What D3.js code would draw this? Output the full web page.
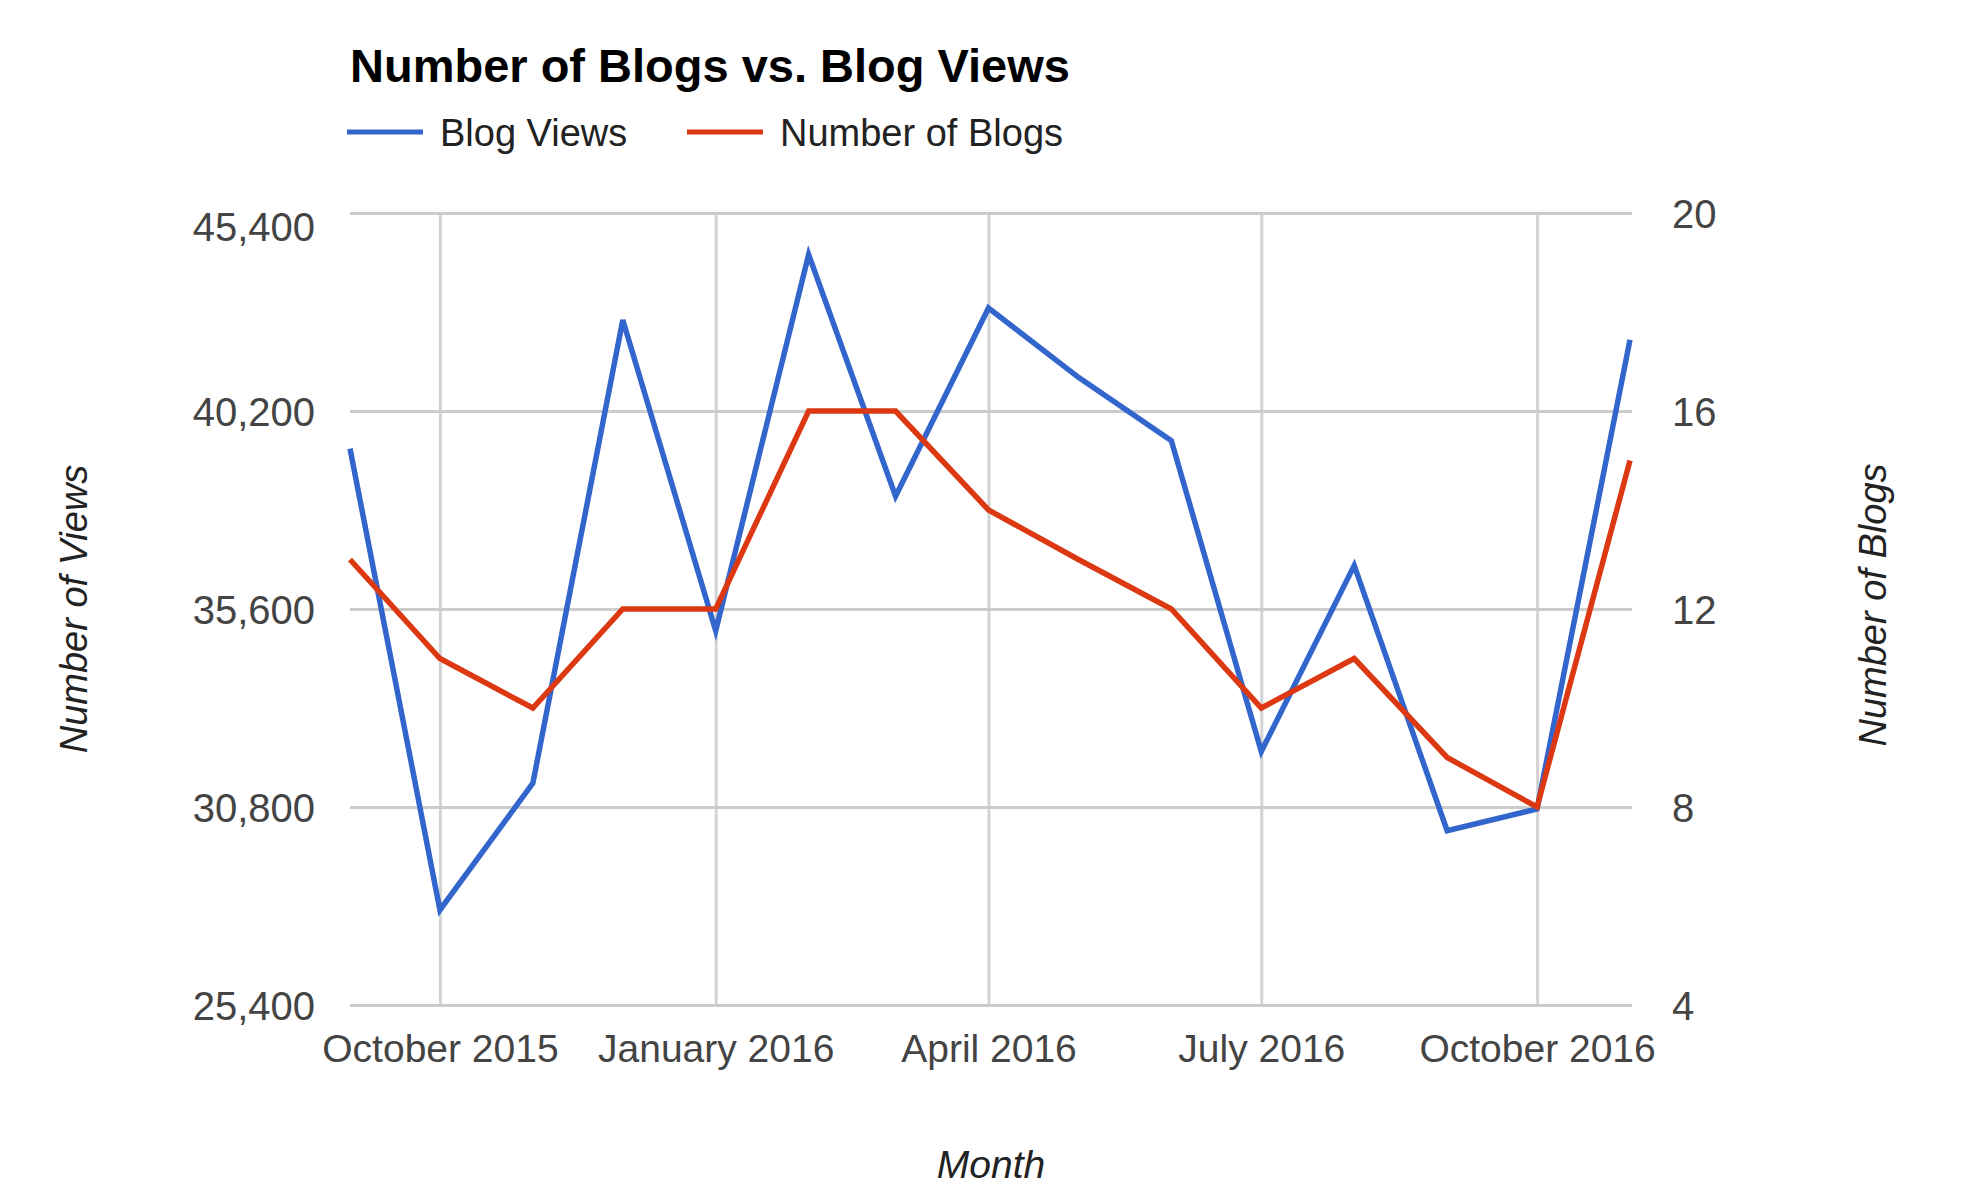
<!DOCTYPE html>
<html>
<head>
<meta charset="utf-8">
<script src="https://cdn.jsdelivr.net/npm/d3@7"></script>
<style>
  body { margin: 0; background: #fff; }
  svg text { font-family: "Liberation Sans", Arial, sans-serif; }
</style>
</head>
<body>
<div id="chart"></div>
<script>
// monthly data, Sep 2015 - Nov 2016
const months = ["2015-09", "2015-10", "2015-11", "2015-12", "2016-01", "2016-02", "2016-03", "2016-04",
    "2016-05", "2016-06", "2016-07", "2016-08", "2016-09", "2016-10", "2016-11"]
const blogViews = [39450, 27800, 31000, 42700, 34850, 44350, 38250, 43000, 41250, 39650, 31800, 36500, 29800, 30350, 42200]
const numberOfBlogs = [13, 11, 10, 12, 12, 16, 16, 14, 13, 12, 10, 11, 9, 8, 15]
const seriesNames = ["Blog Views", "Number of Blogs"]
const seriesColors = ["#3366cc", "#dc3912"]
const leftTickLabels = ["25,400", "30,800", "35,600", "40,200", "45,400"]
const rightTickValues = [4, 8, 12, 16, 20]

var width = 1962
var height = 1204
var margin = { top: 213, right: 330, bottom: 199, left: 350 }
var plotW = width - margin.left - margin.right
var plotH = height - margin.top - margin.bottom

const parseMonth = d3.timeParse("%Y-%m")
const dates = months.map(parseMonth)

var svg = d3.select("#chart")
    .append("svg")
    .attr("width", width)
    .attr("height", height)

var x = d3.scaleTime()
    .domain([parseMonth("2015-09"), parseMonth("2016-11")])
    .range([0, plotW - 2])
var yLeft = d3.scaleLinear()
    .domain([25400, 45400])
    .range([plotH, 0])
var yRight = d3.scaleLinear()
    .domain([4, 20])
    .range([plotH, 0])

var g = svg.append("g")
    .attr("transform", "translate(" + margin.left + "," + margin.top + ")")

// vertical gridlines + month labels
var xAxis = g.append("g")
    .attr("transform", "translate(0," + plotH + ")")
    .call(d3.axisBottom(x)
        .tickValues(d3.timeMonths(parseMonth("2015-10"), parseMonth("2016-11"), 3))
        .tickFormat(d3.timeFormat("%B %Y"))
        .tickSize(-plotH))
xAxis.select(".domain").remove()
xAxis.selectAll("line").style("stroke", "#d3d3d3").style("stroke-width", "3px")
xAxis.selectAll("text")
    .attr("y", 57).attr("dy", 0)
    .style("font-size", "39px").style("fill", "#444")

// horizontal gridlines + left labels
var leftAxis = g.append("g")
    .call(d3.axisLeft(yLeft)
        .tickValues(d3.range(25400, 45401, 5000))
        .tickFormat((d, i) => leftTickLabels[i])
        .tickSize(-plotW)
        .tickPadding(35))
leftAxis.select(".domain").remove()
leftAxis.selectAll("line").style("stroke", "#cccccc").style("stroke-width", "3px")
leftAxis.selectAll("text")
    .style("font-size", "40px").style("fill", "#444")
    .attr("dy", (d, i) => i == leftTickLabels.length - 1 ? "0.68em" : "0.36em")

// right labels
var rightAxis = g.append("g")
    .attr("transform", "translate(" + plotW + ",0)")
    .call(d3.axisRight(yRight)
        .tickValues(rightTickValues)
        .tickSize(0)
        .tickPadding(40))
rightAxis.select(".domain").remove()
rightAxis.selectAll("text")
    .style("font-size", "40px").style("fill", "#444")
    .attr("dy", "0.36em")

// the two lines, views first so blogs sits on top
var lineViews = d3.line()
    .x((d, i) => x(dates[i]))
    .y(d => yLeft(d))
var lineBlogs = d3.line()
    .x((d, i) => x(dates[i]))
    .y(d => yRight(d))

g.append("path")
    .datum(blogViews)
    .attr("d", lineViews)
    .style("fill", "none")
    .style("stroke", seriesColors[0])
    .style("stroke-width", "5.5px")
    .style("stroke-linejoin", "miter")

g.append("path")
    .datum(numberOfBlogs)
    .attr("d", lineBlogs)
    .style("fill", "none")
    .style("stroke", seriesColors[1])
    .style("stroke-width", "5.5px")
    .style("stroke-linejoin", "miter")

// title
svg.append("text")
    .attr("x", 350)
    .attr("y", 82)
    .style("font-size", "47px")
    .style("font-weight", "bold")
    .style("fill", "#000")
    .text("Number of Blogs vs. Blog Views")

// legend
var legendX = [347, 687]
var legend = svg.selectAll(".legendItem")
    .data(seriesNames).enter()
    .append("g")
    .attr("class", "legendItem")
    .attr("transform", (d, i) => "translate(" + legendX[i] + ",132)")
legend.append("line")
    .attr("x1", 0).attr("x2", 76)
    .style("stroke", (d, i) => seriesColors[i])
    .style("stroke-width", "5px")
legend.append("text")
    .attr("x", 93)
    .attr("y", 14)
    .style("font-size", "38px")
    .style("fill", "#222")
    .text(d => d)

// axis titles
svg.append("text")
    .attr("transform", "translate(87,609) rotate(-90)")
    .style("text-anchor", "middle")
    .style("font-size", "38px")
    .style("font-style", "italic")
    .style("fill", "#222")
    .text("Number of Views")

svg.append("text")
    .attr("transform", "translate(1886,605) rotate(-90)")
    .style("text-anchor", "middle")
    .style("font-size", "38px")
    .style("font-style", "italic")
    .style("fill", "#222")
    .text("Number of Blogs")

svg.append("text")
    .attr("x", margin.left + plotW / 2)
    .attr("y", 1178)
    .style("text-anchor", "middle")
    .style("font-size", "39px")
    .style("font-style", "italic")
    .style("fill", "#222")
    .text("Month")
</script>
</body>
</html>
